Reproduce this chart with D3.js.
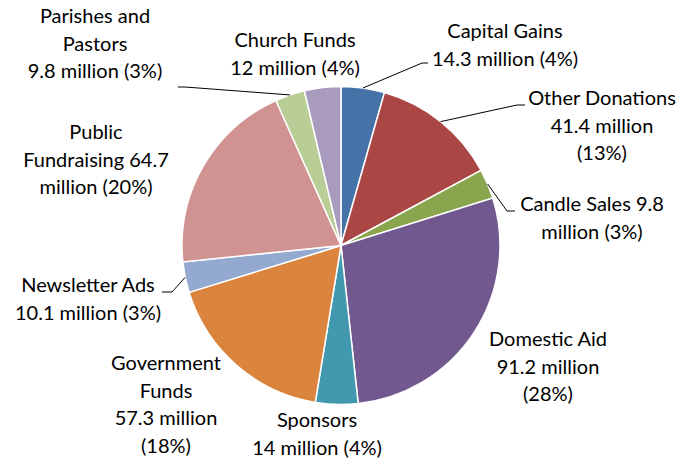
<!DOCTYPE html>
<html lang="en">
<head>
    <meta charset="UTF-8">
    <title>Pie</title>
    <style>
        body { margin: 0; background: #fff; }
        svg text { font-family: Lato, "Open Sans", sans-serif; font-size: 20px; fill: #000; }
    </style>
</head>
<body>
    <div id="chart"></div>
    <script src="https://d3js.org/d3.v7.min.js"></script>
    <script>
        const categories = ["Capital Gains", "Other Donations", "Candle Sales", "Domestic Aid", "Sponsors",
            "Government Funds", "Newsletter Ads", "Public Fundraising", "Parishes and Pastors", "Church Funds"];
        const values = [14.3, 41.4, 9.8, 91.2, 14, 57.3, 10.1, 64.7, 9.8, 12];
        const percents = ["4%", "13%", "3%", "28%", "4%", "18%", "3%", "20%", "3%", "4%"];
        const colors = ["#4572A7", "#AA4643", "#89A54E", "#71588F", "#4198AF",
            "#DB843D", "#93A9CF", "#D19392", "#B9CD96", "#A99BBD"];

        // label text lines, as wrapped in the original
        const labelLines = [
            ["Capital Gains", "14.3 million (4%)"],
            ["Other Donations", "41.4 million", "(13%)"],
            ["Candle Sales 9.8", "million (3%)"],
            ["Domestic Aid", "91.2 million", "(28%)"],
            ["Sponsors", "14 million (4%)"],
            ["Government", "Funds", "57.3 million", "(18%)"],
            ["Newsletter Ads", "10.1 million (3%)"],
            ["Public", "Fundraising 64.7", "million (20%)"],
            ["Parishes and", "Pastors", "9.8 million (3%)"],
            ["Church Funds", "12 million (4%)"]
        ];

        // label placement: x centre, y of first line, optional leader elbow/end
        const labelPos = [
            { x: 505, y: 31, leader: [[422, 63], [428, 63]] },
            { x: 602, y: 98, leader: [[517, 105], [525, 105]] },
            { x: 592, y: 204, leader: [[507, 211], [515, 211]] },
            { x: 548, y: 339 },
            { x: 317, y: 420 },
            { x: 166, y: 363 },
            { x: 88, y: 285, leader: [[172, 292], [162, 292]] },
            { x: 96, y: 132 },
            { x: 95, y: 16, leader: [[185, 87], [178, 87]] },
            { x: 295, y: 40 }
        ];

        const W = 698, H = 459;
        const cx = 341, cy = 245.5, r = 159;
        const lineH = 27.5;

        const svg = d3.select("#chart").append("svg")
            .attr("width", W).attr("height", H);

        const g = svg.append("g").attr("transform", `translate(${cx},${cy})`);

        const pie = d3.pie().sort(null).value(d => d)(values);
        const arc = d3.arc().innerRadius(0).outerRadius(r);

        g.selectAll("path.slice")
            .data(pie)
            .enter().append("path")
            .attr("class", "slice")
            .attr("d", arc)
            .attr("fill", (d, i) => colors[i])
            .attr("stroke", "#fff")
            .attr("stroke-width", 1.5);

        // leader lines
        pie.forEach((d, i) => {
            const p = labelPos[i];
            if (!p.leader) return;
            const a = (d.startAngle + d.endAngle) / 2;
            const start = [cx + r * Math.sin(a), cy - r * Math.cos(a)];
            svg.append("polyline")
                .attr("points", [start].concat(p.leader).map(q => q.join(",")).join(" "))
                .attr("fill", "none")
                .attr("stroke", "#000")
                .attr("stroke-width", 1);
        });

        // labels
        labelLines.forEach((lines, i) => {
            const p = labelPos[i];
            const t = svg.append("text")
                .attr("text-anchor", "middle");
            lines.forEach((s, k) => {
                t.append("tspan")
                    .attr("x", p.x)
                    .attr("y", p.y + k * lineH)
                    .attr("dy", "0.35em")
                    .text(s);
            });
        });
    </script>
</body>
</html>
